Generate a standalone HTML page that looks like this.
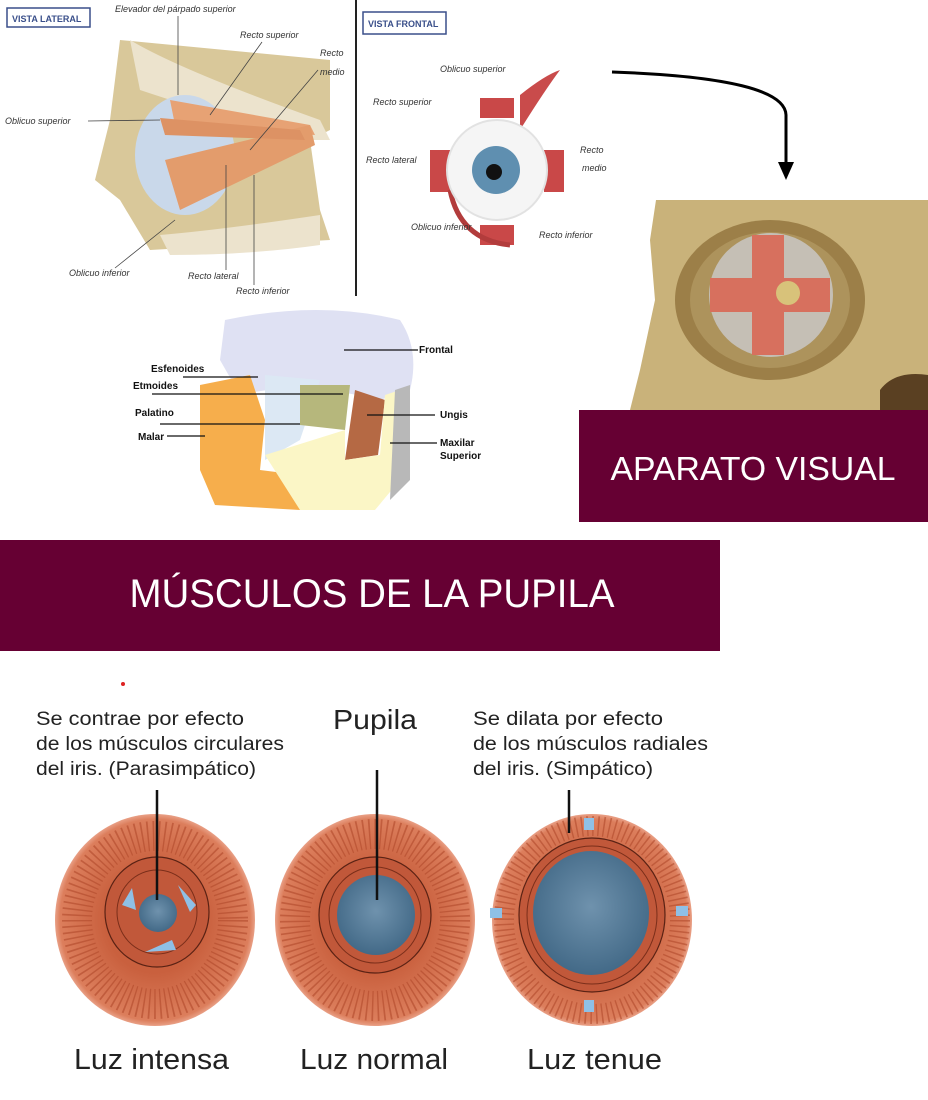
<!DOCTYPE html>
<html><head><meta charset="utf-8"><style>
body{margin:0;width:928px;height:1100px;background:#fff;position:relative;overflow:hidden;font-family:"Liberation Sans",sans-serif}
svg{position:absolute;left:0;top:0}
</style></head><body>
<svg width="928" height="1100" viewBox="0 0 928 1100">
<defs>
<radialGradient id="pup" cx="50%" cy="45%" r="60%"><stop offset="0" stop-color="#6f92ad"/><stop offset="1" stop-color="#3f6684"/></radialGradient>
<radialGradient id="iris" cx="50%" cy="50%" r="50%"><stop offset="0.5" stop-color="#c9603e"/><stop offset="0.95" stop-color="#dc7e5c"/><stop offset="1" stop-color="#e9a086"/></radialGradient>
</defs>
<!-- VISTA LATERAL -->
<rect x="7" y="8" width="83" height="19" fill="#fff" stroke="#3a4f8a" stroke-width="1.5"/>
<text x="12" y="22" font-size="9" font-weight="bold" fill="#3a4f8a">VISTA LATERAL</text>
<path d="M120 40 L330 60 L330 130 L310 140 L320 210 L330 240 L150 250 L120 200 L95 180 L110 120 Z" fill="#d9c89a"/>
<path d="M130 40 Q180 70 320 120 L330 140 L300 140 Q200 110 140 90 Z" fill="#ece3cd"/>
<path d="M160 235 Q220 230 320 215 L320 245 Q250 255 170 255 Z" fill="#ece3cd"/>
<ellipse cx="185" cy="155" rx="50" ry="60" fill="#c9d8ea"/>
<path d="M170 100 L310 125 L315 135 L175 125 Z" fill="#e7a274"/>
<path d="M165 160 L310 125 L315 145 L180 210 Z" fill="#e39c6c"/>
<path d="M160 118 L300 130 L305 140 L165 135 Z" fill="#dd9264"/>
<text x="115" y="12" font-size="9" font-style="italic" fill="#333">Elevador del párpado superior</text>
<text x="240" y="38" font-size="9" font-style="italic" fill="#333">Recto superior</text>
<text x="320" y="56" font-size="9" font-style="italic" fill="#333">Recto</text>
<text x="320" y="75" font-size="9" font-style="italic" fill="#333">medio</text>
<text x="5" y="124" font-size="9" font-style="italic" fill="#333">Oblicuo superior</text>
<text x="69" y="276" font-size="9" font-style="italic" fill="#333">Oblicuo inferior</text>
<text x="188" y="279" font-size="9" font-style="italic" fill="#333">Recto lateral</text>
<text x="236" y="294" font-size="9" font-style="italic" fill="#333">Recto inferior</text>
<g stroke="#444" stroke-width="0.8">
<line x1="88" y1="121" x2="160" y2="120"/><line x1="178" y1="16" x2="178" y2="95"/>
<line x1="262" y1="42" x2="210" y2="115"/><line x1="318" y1="70" x2="250" y2="150"/>
<line x1="115" y1="268" x2="175" y2="220"/><line x1="226" y1="270" x2="226" y2="165"/><line x1="254" y1="285" x2="254" y2="175"/>
</g>
<line x1="356" y1="0" x2="356" y2="296" stroke="#222" stroke-width="2"/>
<!-- VISTA FRONTAL -->
<rect x="363" y="12" width="83" height="22" fill="#fff" stroke="#3a4f8a" stroke-width="1.5"/>
<text x="368" y="27" font-size="9" font-weight="bold" fill="#3a4f8a">VISTA FRONTAL</text>
<path d="M520 130 Q545 90 560 70 Q545 75 520 95 Z" fill="#c94b4b"/>
<rect x="480" y="98" width="34" height="20" fill="#c94848"/>
<rect x="480" y="225" width="34" height="20" fill="#c94848"/>
<rect x="430" y="150" width="20" height="42" fill="#c94848"/>
<rect x="544" y="150" width="20" height="42" fill="#c94848"/>
<path d="M450 190 Q460 240 510 245" stroke="#b23c3c" stroke-width="5" fill="none"/>
<circle cx="497" cy="170" r="50" fill="#f5f5f5" stroke="#e2e2e2" stroke-width="2"/>
<circle cx="496" cy="170" r="24" fill="#5f8fb0"/>
<circle cx="494" cy="172" r="8" fill="#111"/>
<text x="440" y="72" font-size="9" font-style="italic" fill="#333">Oblicuo superior</text>
<text x="373" y="105" font-size="9" font-style="italic" fill="#333">Recto superior</text>
<text x="366" y="163" font-size="9" font-style="italic" fill="#333">Recto lateral</text>
<text x="580" y="153" font-size="9" font-style="italic" fill="#333">Recto</text>
<text x="582" y="171" font-size="9" font-style="italic" fill="#333">medio</text>
<text x="411" y="230" font-size="9" font-style="italic" fill="#333">Oblicuo inferior</text>
<text x="539" y="238" font-size="9" font-style="italic" fill="#333">Recto inferior</text>
<!-- arrow -->
<path d="M612 72 Q785 78 786 115 L786 165" stroke="#000" stroke-width="3" fill="none"/>
<polygon points="778,162 794,162 786,180" fill="#000"/>
<!-- skull -->
<path d="M656 200 L928 200 L928 410 L630 410 L640 370 L655 300 L650 240 Z" fill="#c9b27a"/>
<ellipse cx="770" cy="300" rx="95" ry="80" fill="#9c7f48"/>
<ellipse cx="770" cy="300" rx="80" ry="68" fill="#ad935c"/>
<path d="M880 390 Q895 370 928 375 L928 410 L880 410 Z" fill="#5a4022"/>
<circle cx="771" cy="295" r="62" fill="#c9c7c4" opacity="0.85"/>
<rect x="752" y="235" width="32" height="120" fill="#d7705e"/>
<rect x="710" y="278" width="120" height="34" fill="#d7705e"/>
<circle cx="788" cy="293" r="12" fill="#d8c27a"/>
<!-- APARATO VISUAL -->
<rect x="579" y="410" width="349" height="112" fill="#660033"/>
<text x="753" y="480" font-size="33" fill="#fff" text-anchor="middle" textLength="285" lengthAdjust="spacingAndGlyphs">APARATO VISUAL</text>
<!-- skull bones -->
<path d="M225 320 Q320 300 400 320 Q420 350 410 390 L380 400 Q300 380 240 395 L220 360 Z" fill="#dfe1f3"/>
<path d="M200 385 L250 375 L265 420 L260 470 L300 475 L300 510 L215 505 L200 470 Z" fill="#f6ae4c"/>
<path d="M265 375 L320 380 L300 440 L265 460 Z" fill="#dce8f4"/>
<path d="M300 385 L350 385 L345 430 L300 425 Z" fill="#b6b77c"/>
<path d="M355 390 L385 400 L378 455 L345 460 Z" fill="#b56944"/>
<path d="M265 455 L345 430 L345 460 L380 455 L385 395 L400 390 L400 480 L375 510 L300 510 Z" fill="#fbf6c6"/>
<path d="M395 390 L410 385 L410 480 L390 500 Z" fill="#b8b8b8"/>
<g stroke="#111" stroke-width="1.3">
<line x1="344" y1="350" x2="418" y2="350"/><line x1="183" y1="377" x2="258" y2="377"/>
<line x1="152" y1="394" x2="343" y2="394"/><line x1="160" y1="424" x2="300" y2="424"/>
<line x1="167" y1="436" x2="205" y2="436"/><line x1="367" y1="415" x2="435" y2="415"/>
<line x1="390" y1="443" x2="437" y2="443"/>
</g>
<g font-size="10" font-weight="bold" fill="#111">
<text x="419" y="353">Frontal</text><text x="151" y="372">Esfenoides</text><text x="133" y="389">Etmoides</text>
<text x="135" y="416">Palatino</text><text x="138" y="440">Malar</text><text x="440" y="418">Ungis</text>
<text x="440" y="446">Maxilar</text><text x="440" y="459">Superior</text>
</g>
<!-- banner -->
<rect x="0" y="540" width="720" height="111" fill="#660033"/>
<text x="372" y="607" font-size="40" fill="#fff" text-anchor="middle" textLength="485" lengthAdjust="spacingAndGlyphs">MÚSCULOS DE LA PUPILA</text>
<circle cx="123" cy="684" r="2" fill="#d22"/>
<!-- pupil texts -->
<g font-size="19" fill="#222">
<text x="36" y="725" textLength="208" lengthAdjust="spacingAndGlyphs">Se contrae por efecto</text>
<text x="36" y="750" textLength="248" lengthAdjust="spacingAndGlyphs">de los músculos circulares</text>
<text x="36" y="775" textLength="220" lengthAdjust="spacingAndGlyphs">del iris. (Parasimpático)</text>
<text x="473" y="725" textLength="190" lengthAdjust="spacingAndGlyphs">Se dilata por efecto</text>
<text x="473" y="750" textLength="235" lengthAdjust="spacingAndGlyphs">de los músculos radiales</text>
<text x="473" y="775" textLength="180" lengthAdjust="spacingAndGlyphs">del iris. (Simpático)</text>
</g>
<text x="333" y="729" font-size="28" fill="#222" textLength="84" lengthAdjust="spacingAndGlyphs">Pupila</text>
<!-- irises -->
<g>
<ellipse cx="155" cy="920" rx="100" ry="106" fill="url(#iris)"/>
<ellipse cx="155" cy="920" rx="78" ry="84" fill="none" stroke="#b04a2c" stroke-width="30" stroke-dasharray="1.5 4" opacity="0.6"/>
<ellipse cx="157" cy="912" rx="52" ry="55" fill="#c1583a" stroke="#5a2214" stroke-width="1.2"/>
<ellipse cx="157" cy="912" rx="40" ry="42" fill="none" stroke="#7a2e1a" stroke-width="1"/>
<circle cx="158" cy="913" r="19" fill="url(#pup)"/>
<polygon points="122,905 132,888 136,910" fill="#8fc0e6"/><polygon points="178,885 196,905 190,912" fill="#8fc0e6"/><polygon points="145,952 172,940 176,950" fill="#8fc0e6"/>
<ellipse cx="375" cy="920" rx="100" ry="106" fill="url(#iris)"/>
<ellipse cx="375" cy="920" rx="80" ry="86" fill="none" stroke="#b04a2c" stroke-width="30" stroke-dasharray="1.5 4" opacity="0.6"/>
<ellipse cx="375" cy="915" rx="56" ry="58" fill="#c1583a" stroke="#5a2214" stroke-width="1.2"/>
<ellipse cx="375" cy="915" rx="46" ry="48" fill="none" stroke="#7a2e1a" stroke-width="1"/>
<ellipse cx="376" cy="915" rx="39" ry="40" fill="url(#pup)"/>
<ellipse cx="592" cy="920" rx="100" ry="106" fill="url(#iris)"/>
<ellipse cx="592" cy="920" rx="88" ry="94" fill="none" stroke="#b04a2c" stroke-width="20" stroke-dasharray="1.5 4" opacity="0.6"/>
<ellipse cx="592" cy="915" rx="73" ry="77" fill="#c1583a" stroke="#5a2214" stroke-width="1.2"/>
<ellipse cx="592" cy="915" rx="65" ry="69" fill="none" stroke="#7a2e1a" stroke-width="1"/>
<ellipse cx="591" cy="913" rx="58" ry="62" fill="url(#pup)"/>
<rect x="584" y="818" width="10" height="12" fill="#8fc0e6"/><rect x="584" y="1000" width="10" height="12" fill="#8fc0e6"/>
<rect x="490" y="908" width="12" height="10" fill="#8fc0e6"/><rect x="676" y="906" width="12" height="10" fill="#8fc0e6"/>
</g>
<g stroke="#111" stroke-width="2.5">
<line x1="157" y1="790" x2="157" y2="900"/><line x1="377" y1="770" x2="377" y2="900"/><line x1="569" y1="790" x2="569" y2="833"/>
</g>
<g font-size="29" fill="#222">
<text x="74" y="1069" textLength="155" lengthAdjust="spacingAndGlyphs">Luz intensa</text>
<text x="300" y="1069" textLength="148" lengthAdjust="spacingAndGlyphs">Luz normal</text>
<text x="527" y="1069" textLength="135" lengthAdjust="spacingAndGlyphs">Luz tenue</text>
</g>
</svg>
</body></html>
